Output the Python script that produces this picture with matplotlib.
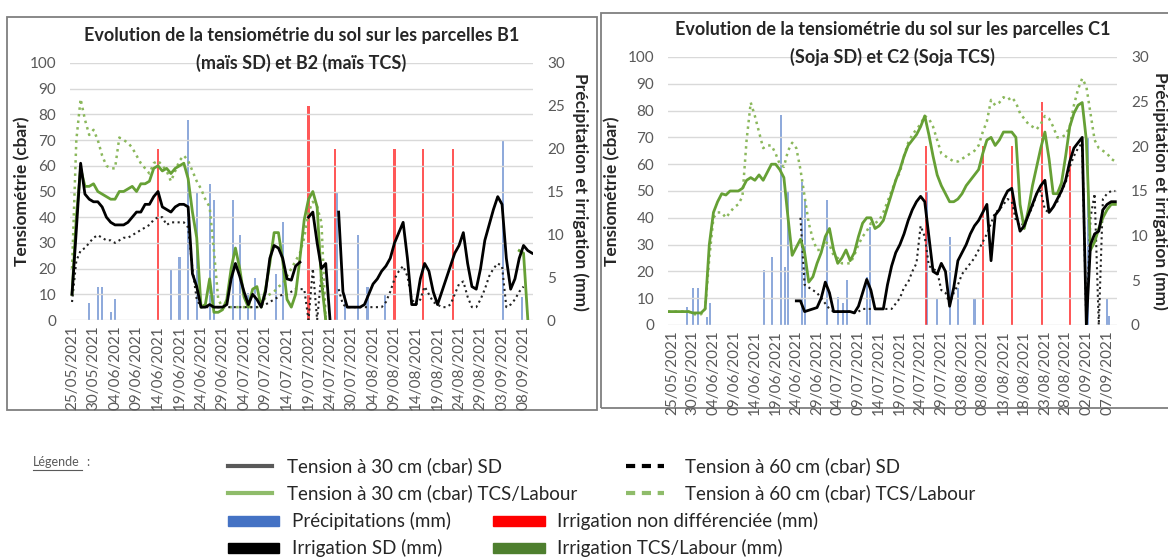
import matplotlib
matplotlib.use("Agg")
import matplotlib.pyplot as plt
import numpy as np
from matplotlib.lines import Line2D
from matplotlib.patches import Rectangle

nan = np.nan

# ---- left chart : B1 (mais SD) / B2 (mais TCS) ----
L_days = np.arange(0, 108)
L_labels = ['25/05/2021', '30/05/2021', '04/06/2021', '09/06/2021', '14/06/2021',
            '19/06/2021', '24/06/2021', '29/06/2021', '04/07/2021', '09/07/2021',
            '14/07/2021', '19/07/2021', '24/07/2021', '30/07/2021', '04/08/2021',
            '09/08/2021', '14/08/2021', '19/08/2021', '24/08/2021', '29/08/2021',
            '03/09/2021', '08/09/2021']
L_sd30 = [10, 35, 61, 49, 47, 46, 46, 44, 40, 38,
          37, 37, 37, 38, 40, 42, 42, 45, 45, 48,
          50, 44, 43, 42, 44, 45, 45, 44, 18, 13,
          5, 5, 6, 5, 5, 5, 6, 16, 22, 17,
          11, 6, 10, 8, 5, 11, 24, 29, 28, 24,
          16, 15.5, 21, 22.5, nan, 40, 42, 30, 20, 22,
          0, nan, 42, 11, 5, 5, 5, 5, 6, 10,
          14, 16, 19, 21, 24, 30, 34, 38, 24, 6,
          6, 16, 22, 19, 11, 6, 11, 16, 21, 26,
          29, 34, 22, 13, 12, 20, 31, 37, 43, 48,
          45, 24, 12, 16, 24, 29, 27, 26]
L_sd60 = [7, 23, 27, 28, 30, 32, 33, 32, 31, 31,
          30, 31, 32, 32, 33, 34, 35, 36, 37, 39,
          40, 40, 37, 38, 38, 38, 38, 36, 20, 8,
          5, 5, 5, 5, 5, 5, 5, 5, 5, 5,
          5, 5, 5, 5, 6, 6, 7, 8, 9, 10,
          10, 11, 12, 12, 12, 0, 20, 0, 18, 0,
          nan, nan, 12, 6, 5, 5, 5, 5, 5, 5,
          5, 5, 5, 7, 11, 16, 19, 21, 17, 8,
          6, 8, 13, 10, 7, 6, 5, 5, 6, 10,
          14, 15, 9, 5, 5, 8, 12, 17, 20, 22,
          21, 5, 6, 8, 11, 13, nan, nan]
L_tcs30 = [10, 40, 59, 52, 52, 53, 50, 49, 48, 47,
           47, 50, 50, 51, 52, 50, 53, 53, 54, 59,
           60, 58, 59, 57, 59, 60, 61, 55, 42, 32,
           5, 6, 16, 3, 3, 4, 8, 20, 28, 20,
           9, 5, 12, 13, 5, 12, 22, 34, 34, 23,
           8, 5, 10, 24, 39, 47, 50, 44, 15, 0] + [nan] * 44 + [27, 26, 0, nan]
L_tcs60 = [20, 70, 86, 78, 72, 74, 70, 64, 60, 59,
           59, 71, 70, 69, 67, 64, 61, 59, 57, 61,
           62, 60, 58, 54, 58, 62, 64, 62, 58, 54,
           51, 47, 44, 27, 8, 5, 5, 5, 5, 5,
           5, 5, 5, 5, 5, 9, 10, 11, 13, 14,
           17, 20, 23, 26, 32, 42, 46, 44, 38, 0] + [nan] * 48
L_rain_day = [4, 6, 7, 9, 10, 23, 25, 27, 29, 32, 33, 37.5, 39, 41, 42.5,
              47.5, 49, 61.6, 63.5, 66.5, 68.7, 72.8, 100.2, 104.7]
L_rain_mm = [2.0, 3.9, 3.9, 0.9, 2.5, 6.0, 7.4, 23.4, 14.8, 15.9, 14.0, 14.0, 9.9, 3.2, 4.9,
             5.4, 11.4, 15.0, 2.9, 9.9, 3.9, 2.9, 21.0, 2.7]
L_irr_day = [20, 55, 61.2, 75, 81.6, 88.6]
L_irr_mm = [20, 25, 20, 20, 20, 20]

# ---- right chart : C1 (Soja SD) / C2 (Soja TCS) ----
R_days = np.arange(-1, 108)
R_labels = ['25/05/2021', '30/05/2021', '04/06/2021', '09/06/2021', '14/06/2021',
            '19/06/2021', '24/06/2021', '29/06/2021', '04/07/2021', '09/07/2021',
            '14/07/2021', '19/07/2021', '24/07/2021', '29/07/2021', '03/08/2021',
            '08/08/2021', '13/08/2021', '18/08/2021', '23/08/2021', '28/08/2021',
            '02/09/2021', '07/09/2021']
R_tcs30 = [5, 5, 5, 5, 5, 5, 4.5, 4.5, 4.5, 6,
           30, 42, 46, 49, 48.5, 50, 50, 50, 51, 54,
           55, 54, 56, 54, 57, 60, 60, 58, 55, 40,
           26, 29, 32, 27, 16, 18, 23, 27, 33, 36,
           28, 23, 25, 28, 24, 27, 33, 38, 40, 40,
           36, 37, 39, 44, 49, 54, 58, 63, 67, 69,
           71, 74, 78, 71, 63, 56, 52, 49, 46, 46,
           47, 49, 52, 54, 56, 58, 64, 69, 70, 67,
           69, 72, 72, 72, 70, 45, 36, 43, 52, 59,
           66, 72, 62, 49, 49, 53, 63, 74, 79, 82,
           83, 69, 28, 31, 36, 40, 43, 45, 45]
R_tcs60 = [5, 5, 5, 5, 5, 5, 4, 4, 4, 6,
           25, 40, 42, 42, 40, 42, 44, 45, 48, 69,
           83, 78, 72, 66, 67, 67, 64, 60, 59, 65,
           68, 66, 58, 48, 38, 32, 28, 28, 31, 30,
           26, 25, 23, 23, 23, 26, 30, 33, 35, 38,
           38, 39, 42, 46, 50, 54, 57, 63, 68, 71,
           73, 75, 78, 77, 74, 69, 64, 63, 62, 61,
           61, 62, 63, 64, 65, 67, 72, 76, 84, 82,
           83, 85, 84, 85, 83, 79, 77, 75, 74, 73,
           75, 78, 77, 74, 70, 70, 71, 74, 82, 88,
           92, 89, 79, 69, 66, 65, 64, 62, 61]
R_sd30 = [nan] * 31 + [9, 9, 5, 5.5, 6, 6.5, 10, 16, 12, 5,
                       5, 5, 5, 5, 4.5, 7, 12, 17, 13, 6,
                       6, 6, 15, 22, 27, 30, 34, 39, 43, 46,
                       48, 46, 33, 20, 19, 23, 20, 7, 14, 24,
                       27, 30, 34, 37, 39, 42, 45, 24, 41, 43,
                       47, 50, 51, 42, 35, 37, 41, 45, 49, 52,
                       54, 42, 44, 47, 50, 54, 61, 66, 68, 70,
                       0, 30, 34, 35, 43, 45, 46, 46]
R_sd60 = [nan] * 32 + [40, 15, 14, 13, 12, 10, 8, 6, 5,
                       5, 5, 5, 5, 4.5, 5, 6, 6, 6, 6,
                       6, 6, 6, 6, 8, 10, 14, 16, 20, 23,
                       37, 33, 22, 21, 20, 13, 12, 8, 12, 15,
                       19, 21, 23, 25, 28, 31, 34, 38, 42, 43,
                       45, 47, 46, 39, 37, 38, 41, 44, 49, 50,
                       43, 42, 44, 46, 50, 53, 59, 63, 66, 68,
                       0, 40, 49, 0, 47, 49, 50, 50]
R_rain_day = [3.6, 5, 6.3, 8.4, 9.2, 22.2, 24.1, 26.3, 27.3, 28, 31.4, 32.1, 37.4,
              40, 41.2, 42.3, 47, 47.8, 61.5, 64, 67, 69, 73, 100.4, 105, 105.5]
R_rain_mm = [2.0, 4.1, 4.1, 0.9, 2.5, 6.2, 7.6, 23.5, 6.5, 14.9, 16.0, 14.0, 14.0,
             3.1, 2.5, 5.0, 5.4, 11.0, 14.9, 3.0, 9.9, 4.1, 3.0, 21.0, 3.0, 1.0]
R_irr_day = [61.3, 75, 82, 89.3, 96]
R_irr_mm = [20, 20, 20, 25, 20]

plt.rcParams['font.family'] = ['Lato', 'DejaVu Sans']

W, H = 1168, 558
fig = plt.figure(figsize=(W / 100, H / 100), dpi=100)


def fx(x):
    return x / W


def fy(y):
    return 1 - y / H


GRAY = '#595959'
BLACK = '#000000'
GREEN = '#66A035'
GREEN_LIGHT = '#8BB85C'


def panel(rect, xlim, days, sd30, sd60, tcs30, tcs60, rain_d, rain_mm, irr_d, irr_mm,
          labels, title1, title2, title_y, ylab_x, y2lab_x):
    ax = fig.add_axes(rect)
    ax2 = ax.twinx()
    ax.set_zorder(ax2.get_zorder() + 1)
    ax.patch.set_visible(False)

    ax2.bar(rain_d, rain_mm, width=0.5, color='#4472C4', alpha=0.6, zorder=2)
    ax2.bar(irr_d, irr_mm, width=0.5, color='#FF2020', alpha=0.75, zorder=3)

    ax.plot(days, tcs60, color=GREEN_LIGHT, lw=1.8, ls=':', zorder=3)
    ax.plot(days, sd60, color='#222222', lw=1.5, ls=':', zorder=3)
    ax.plot(days, tcs30, color=GREEN, lw=2.0, zorder=4)
    ax.plot(days, sd30, color=BLACK, lw=2.0, zorder=5)

    ax.set_ylim(0, 100)
    ax2.set_ylim(0, 30)
    ax.set_xlim(*xlim)
    ax.set_yticks(np.arange(0, 101, 10))
    ax2.set_yticks(np.arange(0, 31, 5))
    ax.set_xticks(np.arange(0, 106, 5))
    ax.set_xticklabels(labels, rotation=90, fontsize=10, color=GRAY)
    ax.grid(axis='y', color='#D9D9D9', lw=1)
    for a in (ax, ax2):
        for s in a.spines.values():
            s.set_visible(False)
        a.tick_params(length=0, labelsize=11, labelcolor=GRAY, pad=10)
    ax.tick_params(axis='x', pad=4)
    ax.set_ylabel('Tensiométrie (cbar)', fontsize=12.5, fontweight='bold', color='#262626',
                  va='center', ha='center')
    ax.yaxis.set_label_coords(ylab_x, 0.5)
    ax2.set_ylabel('Précipitation et irrigation (mm)', fontsize=12.5, fontweight='bold',
                   color='#262626', rotation=270, va='center', ha='center')
    ax2.yaxis.set_label_coords(y2lab_x, 0.5)
    ax.text(0.5, title_y, title1, transform=ax.transAxes, ha='center', va='center',
            fontsize=13, fontweight='bold', color='#262626')
    ax.text(0.5, title_y - 27 / (rect[3] * H), title2, transform=ax.transAxes,
            ha='center', va='center', fontsize=13, fontweight='bold', color='#262626')
    return ax


panel([fx(70), fy(320), fx(463), 257 / H], (-0.47, 107.2), L_days,
      L_sd30, L_sd60, L_tcs30, L_tcs60, L_rain_day, L_rain_mm, L_irr_day, L_irr_mm,
      L_labels,
      'Evolution de la tensiométrie du sol sur les parcelles B1',
      '(maïs SD) et B2 (maïs TCS)', 1 + (63 - 36) / 257, -0.104, 1.1015)

panel([fx(668), fy(325), fx(449), 268 / H], (-0.97, 107.4), R_days,
      R_sd30, R_sd60, R_tcs30, R_tcs60, R_rain_day, R_rain_mm, R_irr_day, R_irr_mm,
      R_labels,
      'Evolution de la tensiométrie du sol sur les parcelles C1',
      '(Soja SD) et C2 (Soja TCS)', 1 + (57 - 30) / 268, -0.125, 1.096)

# frames round the two charts
fig.add_artist(Rectangle((fx(7), fy(410)), fx(590), (410 - 17) / H, transform=fig.transFigure,
                         fill=False, ec='#7F7F7F', lw=1.3))
fig.add_artist(Rectangle((fx(601), fy(408)), fx(580), (408 - 13) / H, transform=fig.transFigure,
                         fill=False, ec='#7F7F7F', lw=1.3))

# legend below
LEG_FONT = ['Lato', 'DejaVu Sans']
fig.text(fx(33), fy(462), 'Légende', fontsize=9, color=GRAY, family=LEG_FONT, va='center')
fig.text(fx(86), fy(462), ':', fontsize=9, color=GRAY, family=LEG_FONT, va='center')
fig.add_artist(Line2D([fx(33), fx(82)], [fy(470), fy(470)], color=GRAY, lw=0.8))


def leg_line(x0, x1, y, color, ls, text, tx):
    fig.add_artist(Line2D([fx(x0), fx(x1)], [fy(y), fy(y)], color=color, lw=3, ls=ls))
    fig.text(fx(tx), fy(y), text, fontsize=13.5, color='#262626', family=LEG_FONT, va='center')


def leg_rect(x0, x1, y, color, text, tx):
    fig.add_artist(Rectangle((fx(x0), fy(y + 5)), fx(x1 - x0), 10 / H, transform=fig.transFigure,
                             color=color))
    fig.text(fx(tx), fy(y), text, fontsize=13.5, color='#262626', family=LEG_FONT, va='center')


leg_line(228, 272, 466, '#595959', '-', 'Tension à 30 cm (cbar) SD', 287)
leg_line(626, 664, 466, '#000000', (0, (2.2, 1.6)), 'Tension à 60 cm (cbar) SD', 685)
leg_line(228, 272, 493, '#8FBC6A', '-', 'Tension à 30 cm (cbar) TCS/Labour', 287)
leg_line(626, 664, 493, '#8FBC6A', (0, (2.2, 1.6)), 'Tension à 60 cm (cbar) TCS/Labour', 685)
leg_rect(228, 279, 521, '#4472C4', 'Précipitations (mm)', 292)
leg_rect(493, 545, 521, '#FF0000', 'Irrigation non différenciée (mm)', 557)
leg_rect(228, 279, 548, '#000000', 'Irrigation SD (mm)', 292)
leg_rect(493, 545, 548, '#4E7F2E', 'Irrigation TCS/Labour (mm)', 557)

fig.savefig('out.png', dpi=100)
